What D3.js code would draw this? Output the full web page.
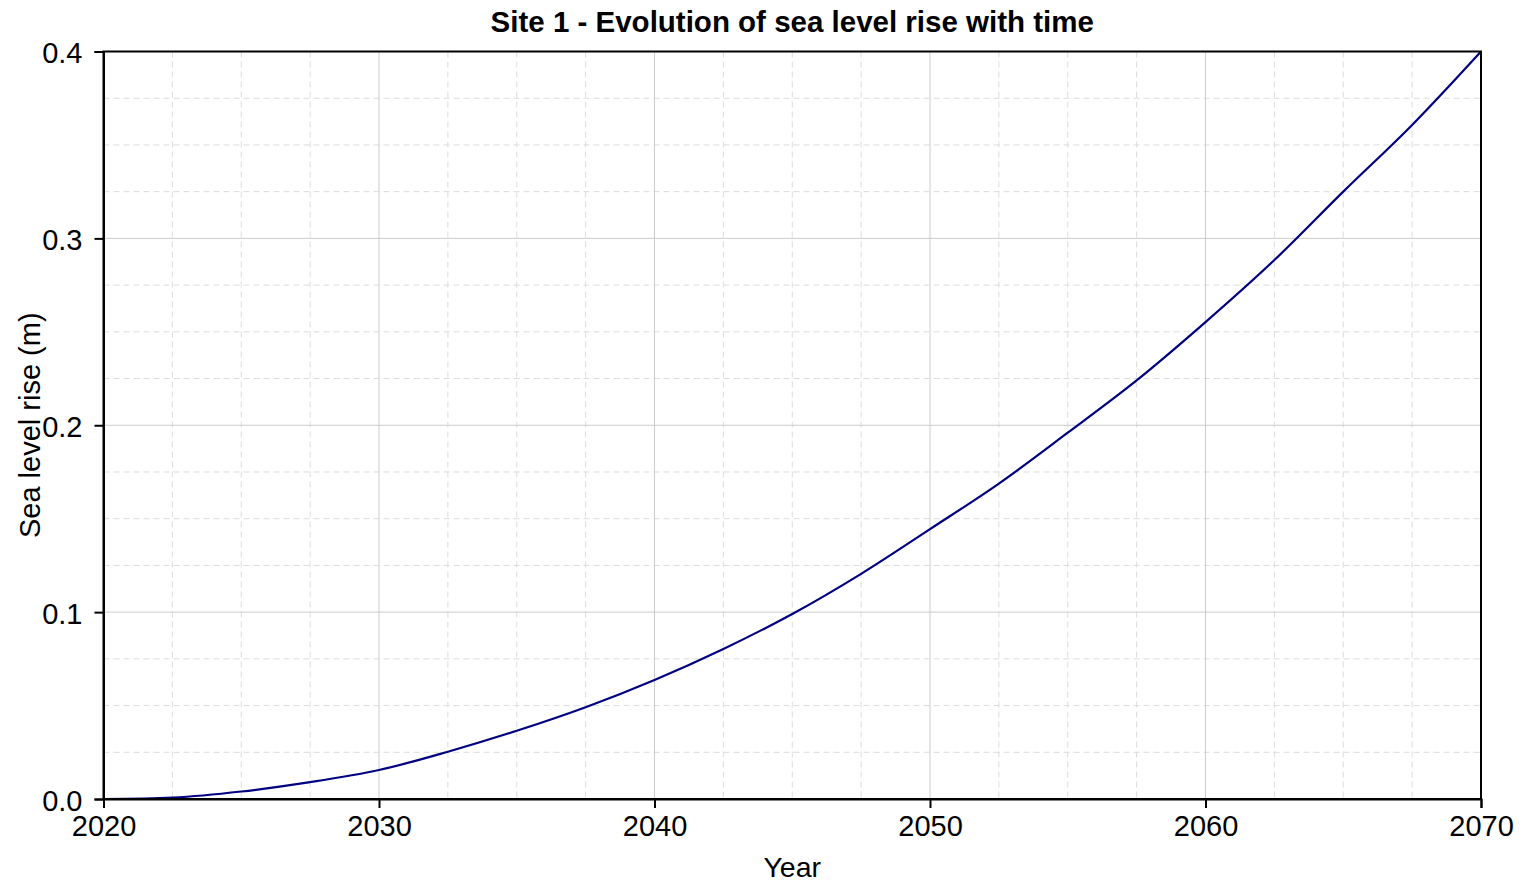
<!DOCTYPE html>
<html>
<head>
<meta charset="utf-8">
<script src="https://cdn.jsdelivr.net/npm/d3@7"></script>
<style>
  html, body { margin: 0; padding: 0; background: #fff; }
  svg { display: block; font-family: "Liberation Sans", Arial, sans-serif; }
</style>
</head>
<body>
<svg id="chart" width="1531" height="882"></svg>
<script>
// Sea level rise projection for Site 1
const years = [2020, 2022.5, 2025, 2027.5, 2030, 2032.5, 2035, 2037.5, 2040, 2042.5,
               2045, 2047.5, 2050, 2052.5, 2055, 2057.5, 2060, 2062.5, 2065, 2067.5, 2070];
const seaLevelRise = [0, 0.0007, 0.004, 0.009, 0.0155, 0.0253, 0.0365, 0.0491, 0.0637, 0.0803,
                      0.099, 0.1205, 0.1444, 0.1688, 0.196, 0.224, 0.2552, 0.2884, 0.325, 0.3607, 0.4];
const xTicks = [2020, 2030, 2040, 2050, 2060, 2070];
const yTicks = [0.0, 0.1, 0.2, 0.3, 0.4];
const xMinorTicks = d3.range(2020, 2070.001, 2.5).filter(v => v % 10 !== 0);
const yMinorTicks = [0.025, 0.05, 0.075, 0.125, 0.15, 0.175, 0.225, 0.25, 0.275, 0.325, 0.35, 0.375];

const titleText = "Site 1 - Evolution of sea level rise with time";
const xLabel = "Year";
const yLabel = "Sea level rise (m)";

const margin = { left: 103.5, right: 50, top: 51.5, bottom: 83 };
const W = 1531, H = 882;
const svg = d3.select("#chart");

const x = d3.scaleLinear().domain([2020, 2070]).range([margin.left, W - margin.right]);
const y = d3.scaleLinear().domain([0, 0.4]).range([H - margin.bottom, margin.top]);

const x0 = x.range()[0], x1 = x.range()[1];
const y0 = y.range()[0], y1 = y.range()[1];

// minor grid (dashed)
const grid = svg.append("g");
grid.selectAll("line.vminor").data(xMinorTicks).join("line")
  .attr("x1", d => x(d)).attr("x2", d => x(d)).attr("y1", y1).attr("y2", y0)
  .attr("stroke", "#dcdcdc").attr("stroke-width", 1).attr("stroke-dasharray", "6,4");
grid.selectAll("line.hminor").data(yMinorTicks).join("line")
  .attr("x1", x0).attr("x2", x1).attr("y1", d => y(d)).attr("y2", d => y(d))
  .attr("stroke", "#dcdcdc").attr("stroke-width", 1).attr("stroke-dasharray", "6,4");

// major grid (solid)
grid.selectAll("line.vmajor").data(xTicks).join("line")
  .attr("x1", d => x(d)).attr("x2", d => x(d)).attr("y1", y1).attr("y2", y0)
  .attr("stroke", "#cccccc").attr("stroke-width", 1);
grid.selectAll("line.hmajor").data(yTicks).join("line")
  .attr("x1", x0).attr("x2", x1).attr("y1", d => y(d)).attr("y2", d => y(d))
  .attr("stroke", "#cccccc").attr("stroke-width", 1);

// series line
const line = d3.line().x((d, i) => x(years[i])).y(d => y(d)).curve(d3.curveCatmullRom);
svg.append("path").datum(seaLevelRise)
  .attr("d", line).attr("fill", "none")
  .attr("stroke", "#000080").attr("stroke-width", 2.2);

// frame
svg.append("rect").attr("x", x0).attr("y", y1).attr("width", x1 - x0).attr("height", y0 - y1)
  .attr("fill", "none").attr("stroke", "#000").attr("stroke-width", 2);

// axes
const fmtY = d3.format(".1f");
const xAxis = svg.append("g").attr("transform", `translate(0,${y0})`)
  .call(d3.axisBottom(x).tickValues(xTicks).tickFormat(d3.format("d")).tickSize(9).tickPadding(7));
const yAxis = svg.append("g").attr("transform", `translate(${x0},0)`)
  .call(d3.axisLeft(y).tickValues(yTicks).tickFormat(fmtY).tickSize(9).tickPadding(12));
[xAxis, yAxis].forEach(a => {
  a.select(".domain").attr("stroke", "#000").attr("stroke-width", 2);
  a.selectAll(".tick line").attr("stroke", "#000").attr("stroke-width", 2);
  a.selectAll(".tick text").attr("fill", "#000")
    .style("font-family", '"Liberation Sans", Arial, sans-serif').style("font-size", "29px");
});
yAxis.selectAll(".tick text").attr("dy", "0.38em");

// title
svg.append("text").attr("x", (x0 + x1) / 2).attr("y", 32)
  .attr("text-anchor", "middle").style("font-size", "29.5px").style("font-weight", "bold")
  .attr("fill", "#000").text(titleText);

// axis labels
svg.append("text").attr("x", (x0 + x1) / 2).attr("y", 877)
  .attr("text-anchor", "middle").style("font-size", "28.5px").attr("fill", "#000").text(xLabel);
svg.append("text").attr("transform", `translate(40,${(y0 + y1) / 2}) rotate(-90)`)
  .attr("text-anchor", "middle").style("font-size", "29px").attr("fill", "#000").text(yLabel);
</script>
</body>
</html>
